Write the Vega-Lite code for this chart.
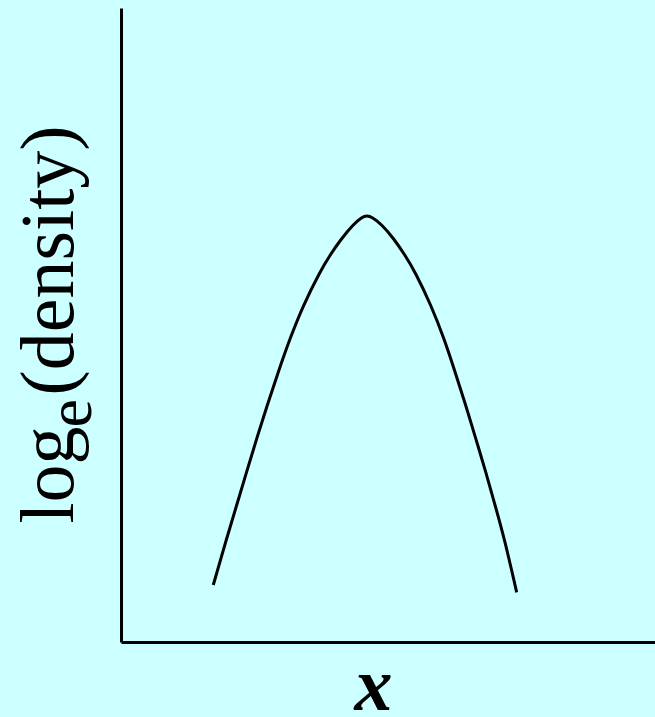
{
  "$schema": "https://vega.github.io/schema/vega-lite/v6.json",
  "width": 534,
  "height": 634,
  "autosize": {"type": "none"},
  "padding": {"left": 121, "top": 8, "right": 0, "bottom": 75},
  "background": "#CCFFFF",
  "config": {
    "view": {"stroke": null},
    "axis": {
      "ticks": false,
      "labels": false,
      "grid": false,
      "domainColor": "#000000",
      "domainWidth": 3,
      "titleFont": "Liberation Serif",
      "titleColor": "#000000",
      "titleFontWeight": "normal",
      "titlePadding": 0
    }
  },
  "data": {
    "values": [
      {"x": 17.28, "logdens": 8.99},
      {"x": 19.79, "logdens": 16.36},
      {"x": 21.67, "logdens": 21.61},
      {"x": 23.54, "logdens": 26.86},
      {"x": 25.41, "logdens": 32.13},
      {"x": 27.4, "logdens": 37.38},
      {"x": 29.46, "logdens": 42.63},
      {"x": 31.65, "logdens": 47.9},
      {"x": 34.14, "logdens": 53.15},
      {"x": 37.27, "logdens": 58.41},
      {"x": 39.14, "logdens": 61.04},
      {"x": 41.33, "logdens": 63.68},
      {"x": 43.5, "logdens": 65.85},
      {"x": 45.13, "logdens": 67.05},
      {"x": 46.07, "logdens": 67.25},
      {"x": 47.0, "logdens": 67.05},
      {"x": 48.82, "logdens": 65.85},
      {"x": 51.03, "logdens": 63.68},
      {"x": 53.18, "logdens": 61.04},
      {"x": 55.06, "logdens": 58.41},
      {"x": 58.05, "logdens": 53.15},
      {"x": 60.49, "logdens": 47.9},
      {"x": 62.55, "logdens": 42.63},
      {"x": 64.55, "logdens": 37.38},
      {"x": 66.42, "logdens": 32.13},
      {"x": 68.3, "logdens": 26.86},
      {"x": 70.04, "logdens": 21.61},
      {"x": 71.78, "logdens": 16.36},
      {"x": 74.1, "logdens": 7.84}
    ]
  },
  "layer": [
    {
      "mark": {"type": "line", "color": "#000000", "strokeWidth": 3, "interpolate": "basis"},
      "encoding": {
        "x": {
          "field": "x",
          "type": "quantitative",
          "scale": {"domain": [0, 100], "nice": false, "zero": false},
          "axis": {
            "orient": "bottom",
            "title": "x",
            "titleFontSize": 76,
            "titleFontWeight": "bold",
            "titleFontStyle": "italic",
            "titleAngle": 0,
            "titleAlign": "center",
            "titleBaseline": "alphabetic",
            "titleX": 252,
            "titleY": 67
          }
        },
        "y": {
          "field": "logdens",
          "type": "quantitative",
          "scale": {"domain": [0, 100], "nice": false, "zero": false},
          "axis": {
            "orient": "left",
            "title": "(density)",
            "titleFontSize": 76,
            "titleAngle": -90,
            "titleAlign": "left",
            "titleBaseline": "alphabetic",
            "titleX": -49,
            "titleY": 387
          }
        }
      }
    },
    {
      "mark": {"type": "line", "opacity": 0, "interpolate": "basis"},
      "encoding": {
        "x": {
          "field": "x",
          "type": "quantitative",
          "axis": {
            "orient": "top",
            "domain": false,
            "title": "log",
            "titleFontSize": 76,
            "titleAngle": -90,
            "titleAlign": "left",
            "titleBaseline": "alphabetic",
            "titleX": -49,
            "titleY": 515
          }
        },
        "y": {
          "field": "logdens",
          "type": "quantitative",
          "axis": {
            "orient": "right",
            "domain": false,
            "title": "e",
            "titleFontSize": 64,
            "titleAngle": -90,
            "titleAlign": "left",
            "titleBaseline": "alphabetic",
            "titleX": -565,
            "titleY": 419
          }
        }
      }
    }
  ],
  "resolve": {"axis": {"x": "independent", "y": "independent"}}
}
